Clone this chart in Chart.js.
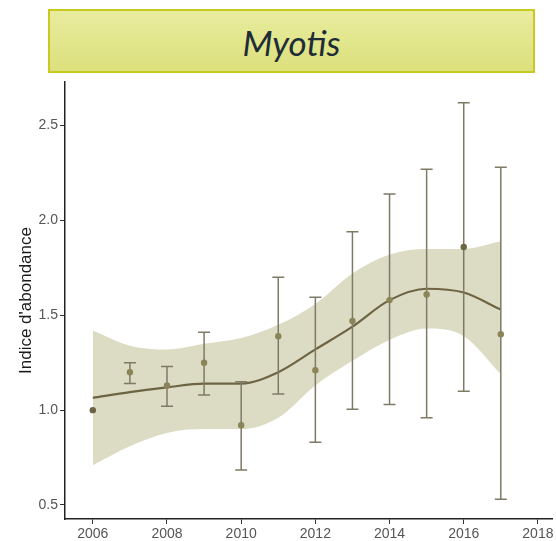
<!DOCTYPE html>
<html>
<head>
<meta charset="utf-8">
<script src="https://cdn.jsdelivr.net/npm/chart.js@4/dist/chart.umd.min.js"></script>
<style>
  html, body { margin: 0; padding: 0; background: #ffffff; }
  #wrap { position: relative; width: 556px; height: 541px; overflow: hidden; }
  #chart { position: absolute; left: 0; top: 0; }
  #title {
    position: absolute; left: 48px; top: 9px; width: 483px; height: 60px;
    border: 2px solid #c8ca22;
    background: linear-gradient(to bottom, #e8ec9e, #dce07c);
    font-family: Lato, "Open Sans", sans-serif; font-style: italic;
    font-size: 35px; color: #1e2c38; text-align: center; line-height: 62px;
  }
</style>
</head>
<body>
<div id="wrap">
  <canvas id="chart" width="556" height="541"></canvas>
  <div id="title">Myotis</div>
</div>
<script>
// Annual abundance index with confidence intervals
const years      = [2006, 2007, 2008, 2009, 2010, 2011, 2012, 2013, 2014, 2015, 2016, 2017];
const indexValue = [1.00, 1.20, 1.13, 1.25, 0.92, 1.39, 1.21, 1.47, 1.58, 1.61, 1.86, 1.40];
const ciLow      = [null, 1.14, 1.02, 1.08, 0.685, 1.085, 0.83, 1.005, 1.03, 0.96, 1.10, 0.53];
const ciHigh     = [null, 1.25, 1.23, 1.41, 1.15, 1.70, 1.595, 1.94, 2.14, 2.27, 2.62, 2.28];

// Smoothed trend with its confidence band
const trendYears = [2006, 2007, 2008, 2009, 2010, 2011, 2012, 2013, 2014, 2015, 2016, 2017];
const trendFit   = [1.065, 1.095, 1.12, 1.14, 1.14, 1.20, 1.32, 1.44, 1.58, 1.64, 1.62, 1.53];
const trendLow   = [0.71, 0.81, 0.88, 0.90, 0.90, 0.96, 1.13, 1.26, 1.37, 1.43, 1.39, 1.19];
const trendHigh  = [1.42, 1.34, 1.32, 1.35, 1.38, 1.45, 1.56, 1.72, 1.82, 1.85, 1.85, 1.89];

// Axis ticks
const xTicks = [2006, 2008, 2010, 2012, 2014, 2016, 2018];
const yTicks = [0.5, 1.0, 1.5, 2.0, 2.5];

const pointColors = years.map(y => (y === 2006 || y === 2016) ? '#6c6545' : '#8a8458');

const pairs = (xs, ys) => xs.map((x, i) => ({ x: x, y: ys[i] }));

// Vertical interval bars with caps, drawn right after the trend line
const errorBars = {
  id: 'errorBars',
  afterDatasetDraw(chart, args) {
    if (args.index !== 2) return;
    const ctx = chart.ctx, xs = chart.scales.x, ys = chart.scales.y;
    ctx.save();
    ctx.strokeStyle = '#7f7a66';
    ctx.lineWidth = 1.5;
    years.forEach((yr, i) => {
      if (ciLow[i] == null) return;
      const px = xs.getPixelForValue(yr);
      const top = ys.getPixelForValue(ciHigh[i]);
      const bot = ys.getPixelForValue(ciLow[i]);
      ctx.beginPath();
      ctx.moveTo(px, top); ctx.lineTo(px, bot);
      ctx.moveTo(px - 6, top); ctx.lineTo(px + 6, top);
      ctx.moveTo(px - 6, bot); ctx.lineTo(px + 6, bot);
      ctx.stroke();
    });
    ctx.restore();
  }
};

const tickFont = { family: '"Liberation Sans", Arial, sans-serif', size: 14 };

new Chart(document.getElementById('chart'), {
  type: 'scatter',
  data: {
    datasets: [
      {
        data: pairs(trendYears, trendHigh), showLine: true, pointRadius: 0, order: 3,
        borderWidth: 0, borderColor: 'rgba(0,0,0,0)', backgroundColor: '#dcdcc5',
        fill: '+1', cubicInterpolationMode: 'monotone'
      },
      {
        data: pairs(trendYears, trendLow), showLine: true, pointRadius: 0, order: 2,
        borderWidth: 0, borderColor: 'rgba(0,0,0,0)', fill: false,
        cubicInterpolationMode: 'monotone'
      },
      {
        data: pairs(trendYears, trendFit), showLine: true, pointRadius: 0, order: 1,
        borderWidth: 2.2, borderColor: '#6d6443', fill: false,
        cubicInterpolationMode: 'monotone'
      },
      {
        data: pairs(years, indexValue), showLine: false, pointRadius: 3.2, order: 0,
        pointBackgroundColor: pointColors, pointBorderWidth: 0
      }
    ]
  },
  options: {
    responsive: false,
    animation: false,
    events: [],
    layout: { padding: { top: 82, left: 0, right: 0, bottom: 0 } },
    plugins: { legend: { display: false }, tooltip: { enabled: false } },
    scales: {
      x: {
        type: 'linear', min: 2005.25, max: 2018.38,
        afterBuildTicks: s => { s.ticks = xTicks.map(v => ({ value: v })); },
        afterFit: s => { s.height = 22; s.paddingLeft = 0; s.paddingRight = 0; },
        grid: { drawOnChartArea: false, drawTicks: true, tickLength: 5, tickColor: '#333333', tickWidth: 1 },
        border: { display: true, color: '#222222', width: 1.5 },
        ticks: { font: tickFont, color: '#555555', padding: 2, maxRotation: 0, autoSkip: false, callback: v => String(v) }
      },
      y: {
        type: 'linear', min: 0.426, max: 2.73,
        afterBuildTicks: s => { s.ticks = yTicks.map(v => ({ value: v })); },
        afterFit: s => { s.width = 65; s.paddingTop = 0; s.paddingBottom = 0; },
        grid: { drawOnChartArea: false, drawTicks: true, tickLength: 5, tickColor: '#333333', tickWidth: 1 },
        border: { display: true, color: '#222222', width: 1.5 },
        ticks: { font: tickFont, color: '#555555', padding: 2, autoSkip: false, callback: v => v.toFixed(1) },
        title: {
          display: true, text: "Indice d'abondance", color: '#1a1a1a',
          font: { family: '"Liberation Sans", Arial, sans-serif', size: 17 },
          padding: { top: 16, bottom: 0 }
        }
      }
    }
  },
  plugins: [errorBars]
});
</script>
</body>
</html>
